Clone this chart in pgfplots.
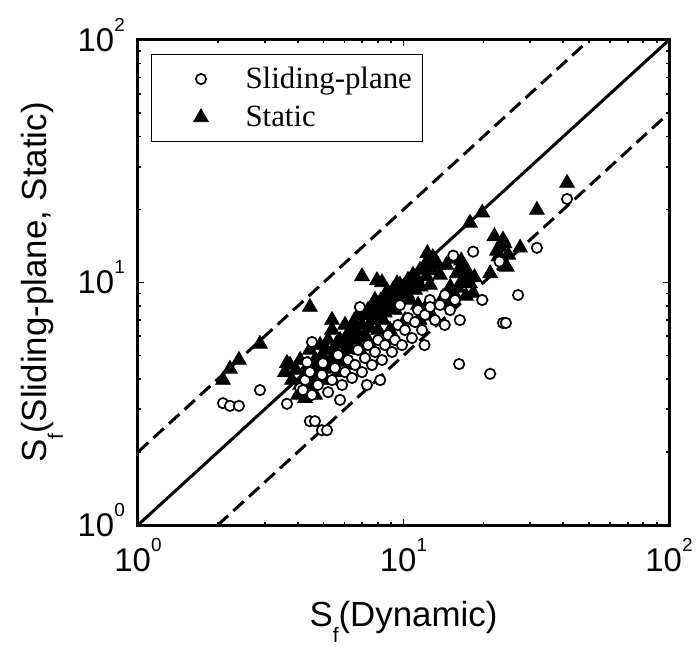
\documentclass[border=0pt]{standalone}
\usepackage{fontspec}
\setmainfont{Liberation Sans}
\newfontfamily\serif{Liberation Serif}
\usepackage{pgfplots}
\pgfplotsset{compat=1.18}

\newcommand{\tl}[1]{10\raisebox{0.62em}{\fontsize{19}{19}\selectfont #1}}
\newcommand{\Sf}{S\raisebox{-16bp}{\fontsize{21}{21}\selectfont f}}

\pgfplotstableread{
x y
2.09 3.96
2.22 4.40
2.40 4.79
2.88 5.58
3.58 4.27
3.64 4.65
3.74 4.57
3.80 3.96
3.94 4.36
4.01 3.44
4.08 4.79
4.08 3.78
4.20 3.90
4.26 4.16
4.26 3.33
4.37 4.57
4.44 5.27
4.44 7.92
4.50 4.10
4.52 3.78
4.64 4.79
4.64 3.44
4.70 4.60
4.76 4.27
4.85 5.52
4.93 5.02
5.00 4.40
5.06 3.96
5.10 5.30
5.20 5.79
5.29 4.57
5.38 6.37
5.38 7.00
5.40 4.90
5.52 5.27
5.60 5.60
5.67 4.27
5.77 5.79
5.80 4.70
5.92 5.02
6.02 6.68
6.10 6.00
6.18 5.52
6.29 4.57
6.30 5.30
6.40 6.37
6.50 6.90
6.57 5.79
6.70 6.20
6.74 7.35
6.86 5.27
6.98 6.68
6.98 10.6
7.00 5.90
7.16 6.07
7.20 7.30
7.35 7.70
7.48 5.52
7.50 6.50
7.61 7.00
7.70 7.90
7.81 8.47
7.95 10.2
8.00 7.20
8.02 6.37
8.15 7.70
8.20 8.40
8.30 10.0
8.37 7.00
8.50 7.50
8.52 8.88
8.70 9.20
8.74 8.08
8.90 6.37
9.00 8.00
9.13 9.31
9.20 8.70
9.29 7.70
9.45 9.90
9.53 8.47
9.60 9.00
9.70 9.77
9.96 8.88
10.00 9.60
10.13 7.00
10.30 9.00
10.40 10.24
10.58 8.47
10.80 9.80
10.86 10.74
11.05 9.31
11.20 10.40
11.34 8.08
11.50 7.00
11.54 11.26
11.60 9.60
11.80 7.49
12.05 11.81
12.20 8.00
12.20 10.60
12.30 13.20
12.58 9.77
12.80 7.30
12.80 11.20
12.90 12.70
13.14 12.38
13.50 11.80
13.72 10.74
14.10 8.70
14.50 11.80
14.80 8.20
15.00 9.58
15.20 12.50
15.50 9.00
15.90 10.90
16.00 9.50
16.00 11.00
16.50 12.30
16.50 10.00
16.80 11.60
17.00 10.20
17.20 8.80
17.50 11.00
17.80 9.90
17.80 17.60
18.30 9.05
18.50 10.50
19.80 19.40
21.20 10.90
22.00 15.50
22.50 13.50
22.80 12.80
23.00 14.00
23.70 15.00
24.00 14.50
24.50 11.60
24.80 13.00
27.50 13.90
31.80 19.90
41.30 25.70
}\statictab

\pgfplotstableread{
x y
2.09 3.18
2.22 3.10
2.40 3.10
2.88 3.60
3.64 3.16
4.08 3.67
4.18 3.60
4.26 3.96
4.33 4.69
4.44 4.27
4.44 2.68
4.52 3.44
4.52 5.68
4.64 2.68
4.76 3.78
4.93 4.16
4.93 2.46
4.97 4.65
5.15 2.46
5.20 3.53
5.38 3.96
5.52 4.44
5.67 5.02
5.77 3.28
5.87 3.78
6.02 4.27
6.18 4.79
6.40 4.04
6.57 4.57
6.74 5.27
6.85 7.92
6.98 4.27
7.16 4.88
7.28 3.78
7.35 5.52
7.61 4.57
7.81 5.17
8.02 5.79
8.17 3.96
8.30 4.79
8.52 5.52
8.74 6.07
9.05 5.17
9.29 5.79
9.53 6.68
9.70 8.07
9.87 5.52
10.13 6.37
10.40 7.14
10.76 5.90
11.05 6.87
11.34 7.70
11.74 6.37
12.00 5.52
12.05 7.35
12.58 8.47
12.60 7.92
13.14 7.00
13.72 8.08
14.30 6.68
14.33 8.88
14.97 7.70
15.40 12.90
15.63 8.47
16.20 4.61
16.30 7.00
18.30 13.40
19.80 8.47
21.20 4.20
23.00 12.20
23.70 6.81
24.30 6.81
27.00 8.88
31.80 13.90
41.30 22.10
}\slidingtab

\begin{document}
\begin{tikzpicture}
\begin{axis}[
    xmode=log, ymode=log,
    scale only axis,
    width=531bp, height=485bp,
    xmin=1, xmax=100, ymin=1, ymax=100,
    xtick={1,10,100}, ytick={1,10,100},
    xticklabels={\tl{0},\tl{1},\tl{2}},
    yticklabels={\tl{0},\tl{1},\tl{2}},
    minor xtick={2,3,4,5,6,7,8,9,20,30,40,50,60,70,80,90},
    minor ytick={2,3,4,5,6,7,8,9,20,30,40,50,60,70,80,90},
    tick align=inside,
    xtick pos=both, ytick pos=both,
    major tick length=6bp, minor tick length=3.5bp,
    every tick/.style={black, line width=1.8bp},
    axis line style={line width=3bp},
    tick label style={font=\fontsize{33}{33}\selectfont},
    xticklabel style={inner sep=0pt, anchor=north, yshift=-13bp},
    yticklabel style={inner sep=0pt, anchor=base east, xshift=-13bp, yshift=-11.5bp},
    label style={font=\fontsize{35}{35}\selectfont},
    xlabel={\Sf(Dynamic)},
    ylabel={\Sf(Sliding-plane, Static)},
    xlabel style={at={(axis description cs:0.5,-0.2103)}, anchor=base, inner sep=0pt},
    ylabel style={at={(axis description cs:-0.1714,0.5)}, anchor=base, inner sep=0pt},
    legend style={
        at={(axis description cs:0.0245,0.971)}, anchor=north west,
        draw=black, line width=1bp,
        font=\serif\fontsize{31}{31}\selectfont,
        inner xsep=11bp, inner ysep=13bp,
        row sep=16bp,
        nodes={inner sep=0pt},
    },
    legend cell align=left,
    reverse legend,
    legend image code/.code={
        \path (0bp,0bp) (82bp,0bp);
        \draw[#1] plot coordinates {(38bp,0bp)};
    },
]
\addplot[black, line width=3bp, forget plot] coordinates {(1,1) (100,100)};
\addplot[black, line width=3bp, dash pattern=on 14bp off 7bp, forget plot] coordinates {(1,2) (50,100)};
\addplot[black, line width=3bp, dash pattern=on 14bp off 7bp, forget plot] coordinates {(2,1) (100,50)};

\addplot[only marks, mark=triangle*, mark size=8.5bp,
    mark options={fill=black, draw=black, line width=0.8bp}] table[x=x, y=y] {\statictab};
\addlegendentry{Static}
\addplot[only marks, mark=*, mark size=5.2bp,
    mark options={fill=white, draw=black, line width=1.7bp}] table[x=x, y=y] {\slidingtab};
\addlegendentry{Sliding-plane}
\end{axis}
\pgfresetboundingbox
\path[use as bounding box] ([xshift=-138bp,yshift=-128bp]current axis.south west)
    rectangle ([xshift=30bp,yshift=40bp]current axis.north east);
\end{tikzpicture}
\end{document}
